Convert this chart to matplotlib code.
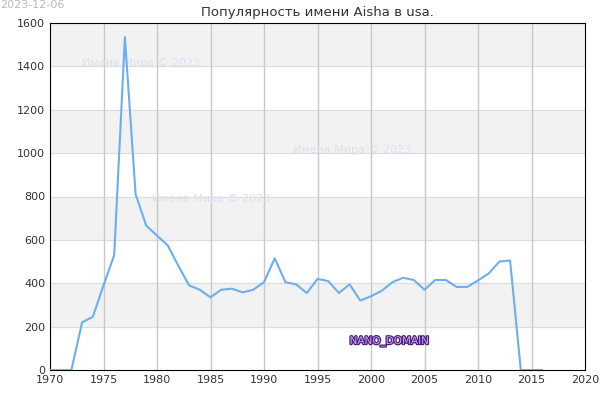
import matplotlib
matplotlib.use("Agg")
import matplotlib.pyplot as plt
import matplotlib.patheffects as pe

years = list(range(1970, 2017))
counts = [0, 0, 0, 220, 245, 390, 530, 1535, 810, 665, 620, 575, 480, 390, 370,
          335, 370, 375, 358, 370, 405, 515, 405, 395, 355, 420, 410, 355, 395,
          320, 340, 365, 405, 425, 415, 370, 415, 415, 383, 383, 413, 445, 500,
          505, 0, 0, 0]

fig = plt.figure(figsize=(6, 4), dpi=100)
ax = fig.add_axes([50 / 600, 30 / 400, 535 / 600, 347 / 400])

# alternating horizontal bands
for lo in range(200, 1600, 400):
    ax.axhspan(lo, lo + 200, color="#f2f2f2", zorder=0)
for y in range(200, 1600, 200):
    ax.axhline(y, color="#dddddd", lw=0.8, zorder=1)
for x in range(1975, 2020, 5):
    ax.axvline(x, color="#c8c8c8", lw=1, zorder=1)

ax.plot(years, counts, color="#6aaff0", lw=1.5, zorder=3)

ax.set_xlim(1970, 2020)
ax.set_ylim(0, 1600)
ax.set_xticks(range(1970, 2021, 5))
ax.set_yticks(range(0, 1601, 200))
ax.tick_params(labelsize=8, length=0, colors="#333333")
for s in ["top", "right", "bottom", "left"]:
    ax.spines[s].set_color("black")

ax.set_title("Популярность имени Aisha в usa.", fontsize=9.5, color="#333333", pad=5)
fig.text(0.0, 1.0, "2023-12-06", ha="left", va="top", fontsize=8, color="#bbbbbb")

wm = dict(fontsize=8, color="#dde0ee", zorder=2)
ax.text(1973, 1400, "Имена Мира © 2023", **wm)
ax.text(1979.5, 775, "Имена Мира © 2023", **wm)
ax.text(1992.7, 1000, "Имена Мира © 2023", **wm)

t = ax.text(1998, 120, "NANO_DOMAIN", fontsize=7.5, color="#c8a8f0", zorder=4)
t.set_path_effects([pe.withStroke(linewidth=1.8, foreground="#4b1f7a")])

fig.savefig("out.png", dpi=100)
